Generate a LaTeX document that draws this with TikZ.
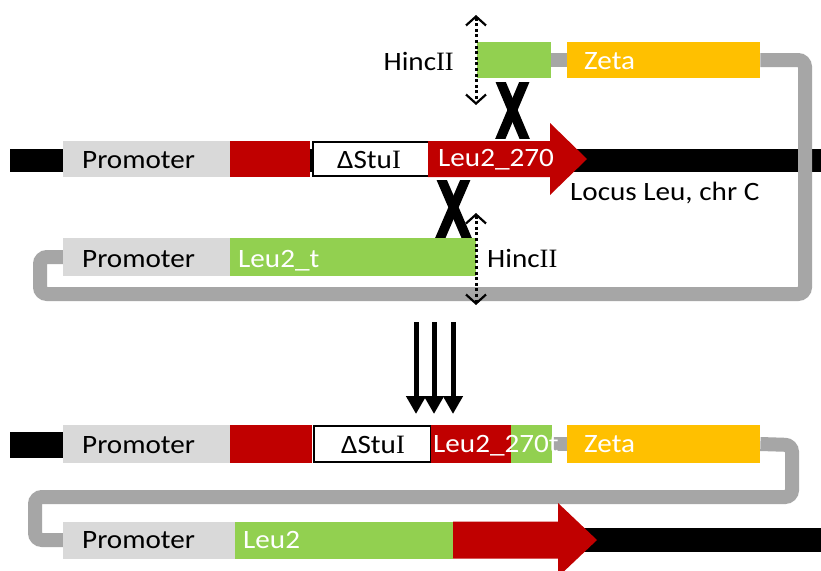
\documentclass[tikz,border=0pt]{standalone}
\usepackage{fontspec}
\setmainfont{Carlito}[FakeStretch=1.1]
\newfontfamily\serifI{Liberation Serif}
\usetikzlibrary{arrows.meta}
\definecolor{dnared}{HTML}{C00000}
\definecolor{dnagreen}{HTML}{92D050}
\definecolor{zetaor}{HTML}{FFC000}
\definecolor{promog}{HTML}{D9D9D9}
\definecolor{linkg}{HTML}{A6A6A6}
\begin{document}
\begin{tikzpicture}[x=1pt,y=-1pt,
  seg/.style={rectangle, inner sep=0pt, anchor=west, minimum height=36pt},
  txt/.style={inner sep=0pt, anchor=base west, font=\fontsize{26.5}{30}\selectfont},
  wtxt/.style={txt, text=white},
  chrom/.style={line width=23pt, draw=black},
  link/.style={line width=14pt, draw=linkg, rounded corners=7pt},
  xmark/.style={line width=9.5pt, draw=black},
  cutarrow/.style={line width=3pt, dash pattern=on 3pt off 2.6pt,
     {Straight Barb[length=9pt,width=20pt,line width=2.2pt]}-{Straight Barb[length=9pt,width=20pt,line width=2.2pt]}},
  recomb/.style={line width=5pt, -{Triangle[length=18pt,width=19pt]}}
]
\useasboundingbox (0,0) rectangle (821,570);
\clip (0,0) rectangle (821,570);
\fill[white] (0,0) rectangle (821,570);

% ---------- chromosome lines ----------
\coordinate (c1l) at (10,160);
\coordinate (c1r) at (821,160);
\draw[chrom] (c1l) -- (c1r);
\coordinate (c3l) at (10,445);
\coordinate (c3r) at (63,445);
\draw[chrom, line width=26pt] (c3l) -- (c3r);
\coordinate (c4l) at (565,540);
\coordinate (c4r) at (821,540);
\draw[chrom, line width=24pt] (c4l) -- (c4r);

% ---------- boxes ----------
% top plasmid fragment
\node[seg, fill=dnagreen, minimum width=74pt] (g1) at (477,60) {};
\node[seg, fill=zetaor, minimum width=193pt] (z1) at (567,60) {};
% chromosome row
\node[seg, fill=promog, minimum width=167pt] (p1) at (63,159) {};
\node[seg, fill=dnared, minimum width=80pt] (r1) at (230,159) {};
\node[seg, fill=white, draw=black, line width=2pt, minimum width=116pt, minimum height=34pt] (s1) at (312,159) {};
% plasmid row
\node[seg, fill=promog, minimum width=167pt, minimum height=38pt] (p2) at (63,257) {};
\node[seg, fill=dnagreen, minimum width=246pt, minimum height=38pt] (lt) at (230,257) {};
% result row 3
\node[seg, fill=promog, minimum width=167pt, minimum height=38pt] (p3) at (63,444) {};
\node[seg, fill=dnared, minimum width=82pt, minimum height=38pt] (r3) at (230,444) {};
\node[seg, fill=white, draw=black, line width=2pt, minimum width=117pt, minimum height=36pt] (s3) at (313,444) {};
\node[seg, fill=dnared, minimum width=80pt, minimum height=38pt] (r3b) at (431,444) {};
\node[seg, fill=dnagreen, minimum width=41pt, minimum height=38pt] (g3) at (511,444) {};
\node[seg, fill=zetaor, minimum width=193pt, minimum height=38pt] (z3) at (567,444) {};
% result row 4
\node[seg, fill=promog, minimum width=172pt, minimum height=37pt] (p4) at (63,540) {};
\node[seg, fill=dnagreen, minimum width=218pt, minimum height=37pt] (g4) at (235,540) {};

% ---------- plasmid backbone (grey links) ----------
\draw[link, rounded corners=0pt] (g1.east) -- (z1.west);
\draw[link] (z1.east) -- (805,60) -- (805,294) -- (40,294) -- (40,257) -- (p2.west);
\draw[link, rounded corners=0pt] (g3.east) -- (z3.west);
\draw[link] (z3.east) -- (792,445) -- (792,497) -- (35,497) -- (35,540) -- (p4.west);
% redraw boxes touched by the links
\node[seg, fill=zetaor, minimum width=193pt] at (567,60) {};
\node[seg, fill=promog, minimum width=167pt, minimum height=38pt] at (63,257) {};
\node[seg, fill=zetaor, minimum width=193pt, minimum height=38pt] at (567,444) {};
\node[seg, fill=promog, minimum width=172pt, minimum height=37pt] at (63,540) {};

% ---------- red arrows ----------
\fill[dnared] (428,141) -- (550,141) -- (550,123) -- (587,159) -- (550,195) -- (550,177) -- (428,177) -- cycle;
\coordinate (a1) at (428,159);
\fill[dnared] (453,521.5) -- (558,521.5) -- (558,503) -- (597,540) -- (558,577) -- (558,558.5) -- (453,558.5) -- cycle;
\coordinate (a4) at (453,540);

% ---------- texts ----------
\node[txt, anchor=base east] (h1) at (454,70) {Hinc{\serifI II}};
\node[wtxt] (z1t) at (584,69) {Zeta};
\node[txt] (p1t) at (82,168) {Promoter};
\node[txt, anchor=base] (s1t) at (369,168) {ΔStu{\serifI I}};
\node[wtxt] (a1t) at (438,166) {Leu2\_270};
\node[txt] (loc) at (570,200) {Locus Leu, chr C};
\node[txt] (p2t) at (82,267) {Promoter};
\node[wtxt] (ltt) at (238,267) {Leu2\_t};
\node[txt] (h2) at (487,267) {Hinc{\serifI II}};
\node[txt] (p3t) at (82,453) {Promoter};
\node[txt, anchor=base] (s3t) at (373,453) {ΔStu{\serifI I}};
\node[wtxt] (r3t) at (433,452) {Leu2\_270t};
\node[wtxt] (z3t) at (584,452) {Zeta};
\node[txt] (p4t) at (82,548) {Promoter};
\node[wtxt] (g4t) at (243,548) {Leu2};

% ---------- crossover marks ----------
\begin{scope}
\clip (480,82) rectangle (545,138);
\coordinate (x1a) at (499,78); \coordinate (x1b) at (526,142);
\coordinate (x1c) at (526,78); \coordinate (x1d) at (499,142);
\draw[xmark] (x1a) -- (x1b);
\draw[xmark] (x1c) -- (x1d);
\end{scope}
\begin{scope}
\clip (420,180) rectangle (490,237);
\coordinate (x2a) at (440,176); \coordinate (x2b) at (468,241);
\coordinate (x2c) at (467,176); \coordinate (x2d) at (439,241);
\draw[xmark] (x2a) -- (x2b);
\draw[xmark] (x2c) -- (x2d);
\end{scope}

% ---------- HincII cut sites ----------
\coordinate (k1t) at (476,15);
\coordinate (k1b) at (476,105);
\draw[cutarrow] (k1t) -- (k1b);
\coordinate (k2t) at (476,213);
\coordinate (k2b) at (476,305);
\draw[cutarrow] (k2t) -- (k2b);

% ---------- recombination arrows ----------
\coordinate (d1s) at (416,322); \coordinate (d1e) at (416,414);
\coordinate (d2s) at (434,322); \coordinate (d2e) at (434,414);
\coordinate (d3s) at (453,322); \coordinate (d3e) at (453,414);
\draw[recomb] (d1s) -- (d1e);
\draw[recomb] (d2s) -- (d2e);
\draw[recomb] (d3s) -- (d3e);
\end{tikzpicture}
\end{document}
